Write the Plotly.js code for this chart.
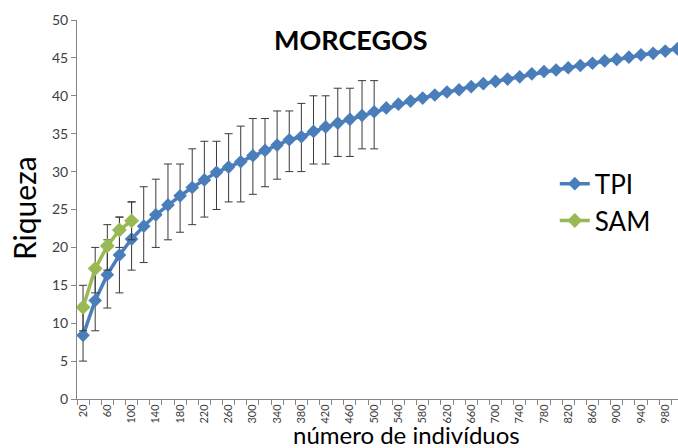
<!DOCTYPE html>
<html>
<head>
<meta charset="utf-8">
<script src="https://cdn.plot.ly/plotly-3.0.1.min.js"></script>
<style>html,body{margin:0;padding:0;background:#fff;}#chart{width:678px;height:448px;}</style>
</head>
<body>
<div id="chart"></div>
<script>
// número de indivíduos (x categories)
const tpiX = [20,40,60,80,100,120,140,160,180,200,220,240,260,280,300,320,340,360,380,400,420,440,460,480,500,
  520,540,560,580,600,620,640,660,680,700,720,740,760,780,800,820,840,860,880,900,920,940,960,980,1000];
const tpiY = [8.4,13.0,16.4,19.0,21.1,22.8,24.3,25.6,26.8,27.9,28.9,29.9,30.6,31.3,32.1,32.8,33.5,34.2,34.6,35.3,35.9,36.4,36.9,37.4,37.9,
  38.4,38.9,39.3,39.7,40.1,40.5,40.8,41.2,41.6,41.9,42.2,42.5,42.9,43.2,43.4,43.7,44.0,44.3,44.6,44.8,45.1,45.4,45.6,45.9,46.2];
// confidence limits for the first 25 TPI points (20-500)
const tpiUpper = [12,17,21,24,26,28,29,31,31,33,34,34,35,36,37,37,38,38,39,40,40,41,41,42,42];
const tpiLower = [5,9,12,14,17,18,20,21,22,23,24,25,26,26,27,28,29,30,30,31,31,32,32,33,33];

const samX = [20,40,60,80,100];
const samY = [12.1,17.2,20.2,22.3,23.5];
const samUpper = [15,20,23,24,26];
const samLower = [9,14,17,20,21];

const xTickVals = [];
for (let v = 20; v <= 980; v += 40) xTickVals.push(v);
const xTickText = xTickVals.map(String);

const FONT = 'Lato, "Open Sans", sans-serif';
const BAR = {color:'#3a3a3a', thickness:1, width:4};

const tpi = {
  x: tpiX, y: tpiY, name: 'TPI', type: 'scatter', mode: 'lines+markers',
  line: {color:'#4A7EBB', width:3.5},
  marker: {symbol:'diamond', size:10.5, color:'#4A7EBB'},
  error_y: Object.assign({type:'data', symmetric:false,
    array: tpiUpper.map((u,i)=>u - tpiY[i]),
    arrayminus: tpiLower.map((l,i)=>tpiY[i] - l)}, BAR)
};
const sam = {
  x: samX, y: samY, name: 'SAM', type: 'scatter', mode: 'lines+markers',
  line: {color:'#98B954', width:3.5},
  marker: {symbol:'diamond', size:11.5, color:'#98B954'},
  error_y: Object.assign({type:'data', symmetric:false,
    array: samUpper.map((u,i)=>u - samY[i]),
    arrayminus: samLower.map((l,i)=>samY[i] - l)}, BAR)
};

const layout = {
  width: 678, height: 448,
  margin: {l:77, r:0, t:20, b:49},
  paper_bgcolor:'#fff', plot_bgcolor:'#fff',
  font: {family: FONT, color:'#404040'},
  showlegend: true,
  legend: {x:0.795, xanchor:'left', y:0.63, yanchor:'top', font:{size:26, color:'#000', family:FONT},
           bgcolor:'rgba(0,0,0,0)', tracegroupgap:0, itemwidth:30},
  xaxis: {range:[10,1001], tickvals:xTickVals, ticktext:xTickText, tickangle:-90,
          ticks:'', showgrid:false, zeroline:false, showline:true, linecolor:'#868686', linewidth:1,
          tickfont:{size:11, color:'#404040'},
          minor:{tick0:10, dtick:20, ticks:'outside', ticklen:5, tickcolor:'#868686', showgrid:false}},
  yaxis: {range:[0,50], dtick:5, ticks:'outside', ticklen:5, tickcolor:'#868686',
          showgrid:false, zeroline:false, showline:true, linecolor:'#868686', linewidth:1,
          tickfont:{size:14, color:'#404040'}},
  annotations: [
    {text:'<b>MORCEGOS</b>', xref:'paper', yref:'paper', x:(351-77)/601, y:1-(40-20)/379,
     xanchor:'center', yanchor:'middle', showarrow:false, font:{size:27, color:'#000', family:FONT}},
    {text:'Riqueza', xref:'paper', yref:'paper', x:(24-77)/601, y:(399-208)/379,
     xanchor:'center', yanchor:'middle', showarrow:false, textangle:-90, font:{size:30, color:'#000', family:FONT}},
    {text:'número de indivíduos', xref:'paper', yref:'paper', x:(406-77)/601, y:-(434-399)/379,
     xanchor:'center', yanchor:'middle', showarrow:false, font:{size:24, color:'#000', family:FONT}}
  ]
};

Plotly.newPlot('chart', [tpi, sam], layout, {displayModeBar:false, staticPlot:true});
</script>
</body>
</html>
